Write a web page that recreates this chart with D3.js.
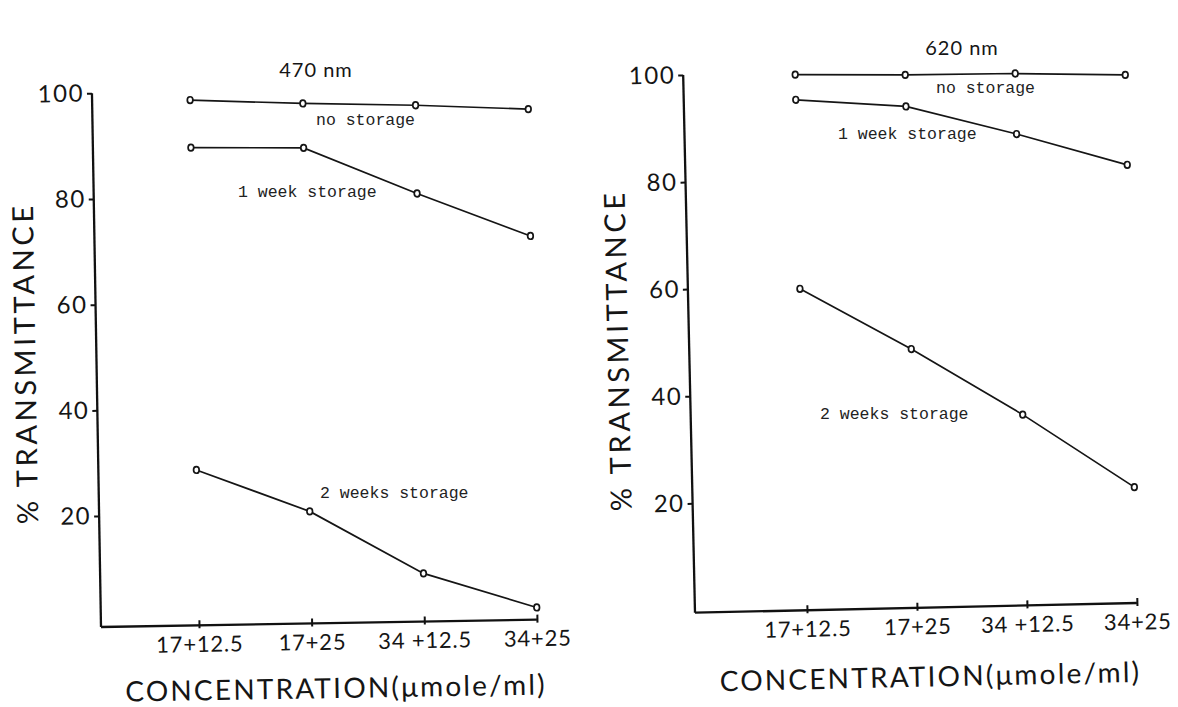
<!DOCTYPE html>
<html>
<head>
<meta charset="utf-8">
<style>
body { margin: 0; background: #fff; }
svg { display: block; }
.axis line { stroke: #111; stroke-width: 2px; }
.axis-line { stroke: #111; stroke-width: 2.3px; fill: none; }
.sans { font-family: Lato, "Open Sans", sans-serif; fill: #151515; }
.mono { font-family: "Liberation Mono", "DejaVu Sans Mono", monospace; fill: #222; }
.line { fill: none; stroke: #151515; stroke-width: 1.7px; }
.dot { fill: #fff; stroke: #151515; stroke-width: 1.7px; }
</style>
</head>
<body>
<svg width="1178" height="707"></svg>

<script src="https://d3js.org/d3.v7.min.js"></script>

<script type="text/javascript">

    // categories (concentration pairs) and tick labels
    var categories = ["17+12.5", "17+25", "34+12.5", "34+25"];
    var xTickLabels = ["17+12.5", "17+25", "34 +12.5", "34+25"];
    var yTickValues = [20, 40, 60, 80, 100];
    var seriesNames = ["no storage", "1 week storage", "2 weeks storage"];

    // % transmittance at 470 nm
    var nm470NoStorage = [98.4, 97.4, 96.7, 95.6];
    var nm470OneWeek = [89.4, 89.0, 80.0, 71.6];
    var nm470TwoWeeks = [28.4, 20.2, 8.1, 1.3];

    // % transmittance at 620 nm
    var nm620NoStorage = [99.6, 99.1, 98.9, 98.2];
    var nm620OneWeek = [94.9, 93.2, 87.6, 81.4];
    var nm620TwoWeeks = [59.6, 47.9, 35.2, 21.2];

    var svg = d3.select("svg");

    // the scanned panels are slightly tilted, so each panel gets its own origin and rotation
    var panels = [
        {
            title: "470 nm", titlePos: [316, 77],
            origin: [101, 627], tilt: -0.97,
            xRange: [98, 436], yRange: [-5.3, -533.8],
            series: [nm470NoStorage, nm470OneWeek, nm470TwoWeeks],
            labelPos: [[316, 125], [238, 197], [320, 498]],
            xTitle: [234, 75], yTitle: [-61, -265]
        },
        {
            title: "620 nm", titlePos: [962, 55],
            origin: [695, 612.7], tilt: -1.26,
            xRange: [112, 442], yRange: [-2.3, -537.9],
            series: [nm620NoStorage, nm620OneWeek, nm620TwoWeeks],
            labelPos: [[936, 93], [838, 139], [820, 419]],
            xTitle: [234, 79], yTitle: [-61, -264]
        }
    ];

    panels.forEach(function(p) {
        var x = d3.scalePoint().domain(categories).range(p.xRange);
        var y = d3.scaleLinear().domain([0, 100]).range(p.yRange);

        // wavelength title
        svg.append("text")
            .attr("class", "sans")
            .attr("x", p.titlePos[0])
            .attr("y", p.titlePos[1])
            .attr("text-anchor", "middle")
            .style("font-size", "20px")
            .style("letter-spacing", "1px")
            .text(p.title);

        var g = svg.append("g")
            .attr("transform", "translate(" + p.origin[0] + "," + p.origin[1] + ") rotate(" + p.tilt + ")");

        // y axis
        var yAxis = d3.axisLeft(y)
            .tickValues(yTickValues)
            .tickSize(5)
            .tickPadding(3);
        var yAxisG = g.append("g")
            .attr("class", "axis")
            .call(yAxis);
        yAxisG.select(".domain").remove();
        yAxisG.selectAll("text")
            .attr("class", "sans")
            .style("font-size", "24px")
            .style("letter-spacing", "1.5px");
        g.append("line")
            .attr("class", "axis-line")
            .attr("x1", 0).attr("y1", 0)
            .attr("x2", 0).attr("y2", y(100));

        // x axis
        var xAxis = d3.axisBottom(x)
            .tickSize(3)
            .tickPadding(8)
            .tickFormat(function(d, i) { return xTickLabels[i]; });
        var xAxisG = g.append("g")
            .attr("class", "axis")
            .call(xAxis);
        xAxisG.select(".domain").remove();
        xAxisG.selectAll(".tick line").attr("y1", -5);
        xAxisG.selectAll("text")
            .attr("class", "sans")
            .style("font-size", "22px")
            .style("letter-spacing", "0.8px");
        g.append("line")
            .attr("class", "axis-line")
            .attr("x1", 0).attr("y1", 0)
            .attr("x2", x(categories[categories.length - 1])).attr("y2", 0);

        // axis titles
        g.append("text")
            .attr("class", "sans")
            .attr("x", p.xTitle[0])
            .attr("y", p.xTitle[1])
            .attr("text-anchor", "middle")
            .style("font-size", "28px")
            .style("letter-spacing", "2.2px")
            .text("CONCENTRATION(\u03bcmole/ml)");

        g.append("text")
            .attr("class", "sans")
            .attr("transform", "translate(" + p.yTitle[0] + "," + p.yTitle[1] + ") rotate(-90)")
            .attr("text-anchor", "middle")
            .style("font-size", "29px")
            .style("letter-spacing", "3.6px")
            .text("% TRANSMITTANCE");

        // lines and points
        var line = d3.line()
            .x(function(d, i) { return x(categories[i]); })
            .y(function(d) { return y(d); });

        p.series.forEach(function(values) {
            g.append("path")
                .attr("class", "line")
                .attr("d", line(values));
            g.selectAll(null)
                .data(values)
                .enter().append("ellipse")
                .attr("class", "dot")
                .attr("cx", function(d, i) { return x(categories[i]); })
                .attr("cy", function(d) { return y(d); })
                .attr("rx", 2.8)
                .attr("ry", 3.3);
        });

        // typed series labels
        seriesNames.forEach(function(name, i) {
            svg.append("text")
                .attr("class", "mono")
                .attr("x", p.labelPos[i][0])
                .attr("y", p.labelPos[i][1])
                .style("font-size", "16.5px")
                .text(name);
        });
    });
</script>
</body>
</html>
